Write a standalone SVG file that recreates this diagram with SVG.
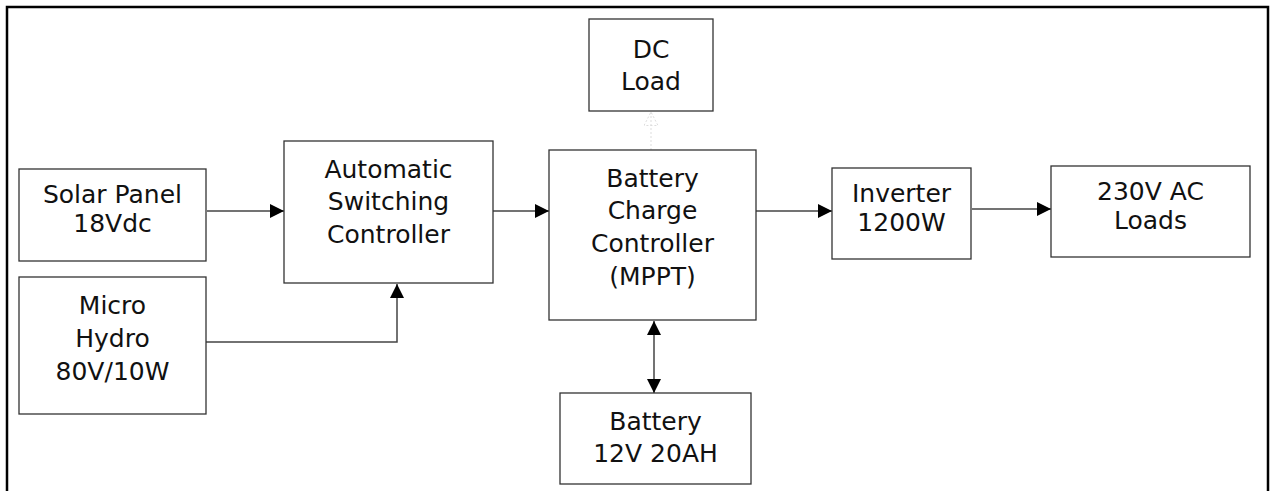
<svg xmlns="http://www.w3.org/2000/svg" width="1271" height="491" viewBox="0 0 1271 491">
<style>
.box{fill:#fff;stroke:#333;stroke-width:1.3}
.lbl{font-family:"DejaVu Sans","Verdana",sans-serif;font-size:25px;fill:#111;text-anchor:middle}
.con{fill:none;stroke:#444;stroke-width:1.5}
.faint{fill:none;stroke:#ddd;stroke-width:1;stroke-dasharray:2 2}
</style>
<defs>
<marker id="arr" markerUnits="userSpaceOnUse" markerWidth="15" markerHeight="15" refX="14" refY="7" orient="auto-start-reverse">
<path d="M0,0 L14,7 L0,14 Z" fill="#000"/>
</marker>
<marker id="arrFaint" markerUnits="userSpaceOnUse" markerWidth="16" markerHeight="16" refX="14" refY="7.5" orient="auto">
<path d="M0.5,0.5 L14,7.5 L0.5,14.5 Z" fill="none" stroke="#ddd" stroke-width="1" stroke-dasharray="2 2"/>
</marker>
</defs>
<rect width="1271" height="491" fill="#fff"/>
<path d="M7,491 V7 H1268 V491" fill="none" stroke="#000" stroke-width="2.5"/>
<g id="connectors">
<line class="con" x1="207" y1="211" x2="284" y2="211" marker-end="url(#arr)"/>
<line class="con" x1="493" y1="211" x2="549" y2="211" marker-end="url(#arr)"/>
<line class="con" x1="756" y1="211" x2="832" y2="211" marker-end="url(#arr)"/>
<line class="con" x1="972" y1="209" x2="1051" y2="209" marker-end="url(#arr)"/>
<polyline class="con" points="206,342 397,342 397,284" marker-end="url(#arr)"/>
<line class="con" x1="654" y1="321" x2="654" y2="393" marker-start="url(#arr)" marker-end="url(#arr)"/>
<line class="faint" x1="651" y1="150" x2="651" y2="112" marker-end="url(#arrFaint)"/>
</g>
<g id="solar">
<rect class="box" x="19" y="169" width="187" height="92"/>
<text class="lbl" x="112.5" y="203">Solar Panel</text>
<text class="lbl" x="112.5" y="232">18Vdc</text>
</g>
<g id="hydro">
<rect class="box" x="19" y="277" width="187" height="137"/>
<text class="lbl" x="112.5" y="314">Micro</text>
<text class="lbl" x="112.5" y="347">Hydro</text>
<text class="lbl" x="112.5" y="380">80V/10W</text>
</g>
<g id="asc">
<rect class="box" x="284" y="141" width="209" height="142"/>
<text class="lbl" x="388.5" y="178">Automatic</text>
<text class="lbl" x="388.5" y="210">Switching</text>
<text class="lbl" x="388.5" y="243">Controller</text>
</g>
<g id="dcload">
<rect class="box" x="589" y="19" width="124" height="92"/>
<text class="lbl" x="651" y="58">DC</text>
<text class="lbl" x="651" y="90">Load</text>
</g>
<g id="bcc">
<rect class="box" x="549" y="150" width="207" height="170"/>
<text class="lbl" x="652.5" y="187">Battery</text>
<text class="lbl" x="652.5" y="219">Charge</text>
<text class="lbl" x="652.5" y="252">Controller</text>
<text class="lbl" x="652.5" y="285">(MPPT)</text>
</g>
<g id="inverter">
<rect class="box" x="832" y="168" width="139" height="91"/>
<text class="lbl" x="901.5" y="202">Inverter</text>
<text class="lbl" x="901.5" y="231">1200W</text>
</g>
<g id="acloads">
<rect class="box" x="1051" y="166" width="199" height="91"/>
<text class="lbl" x="1150.5" y="200">230V AC</text>
<text class="lbl" x="1150.5" y="229">Loads</text>
</g>
<g id="battery">
<rect class="box" x="560" y="393" width="191" height="91"/>
<text class="lbl" x="655.5" y="430">Battery</text>
<text class="lbl" x="655.5" y="462">12V 20AH</text>
</g>
</svg>
